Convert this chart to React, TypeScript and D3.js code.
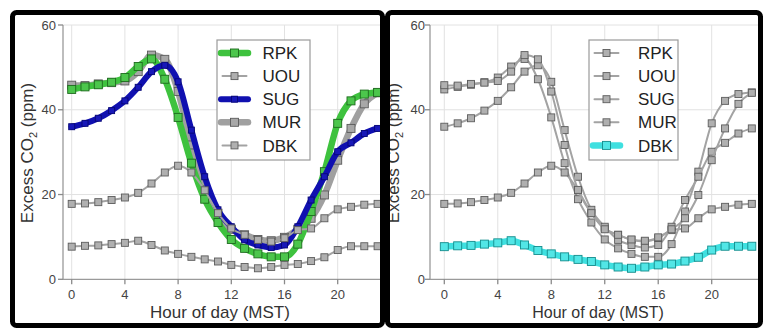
import React from 'react';
import * as d3 from 'd3';

const HOURS = [0, 1, 2, 3, 4, 5, 6, 7, 8, 9, 10, 11, 12, 13, 14, 15, 16, 17, 18, 19, 20, 21, 22, 23];
const RPK = [44.8, 45.4, 45.9, 46.5, 47.6, 50.2, 52.0, 47.2, 38.2, 27.4, 18.9, 13.4, 9.4, 7.3, 6.0, 5.3, 5.3, 8.3, 16.0, 25.4, 36.8, 42.1, 43.7, 44.1];
const UOU = [17.8, 17.9, 18.2, 18.7, 19.3, 20.4, 22.6, 25.2, 26.8, 25.2, 21.0, 15.6, 12.0, 10.5, 9.3, 8.9, 9.7, 11.6, 12.0, 14.4, 16.5, 17.1, 17.6, 17.8];
const SUG = [36.0, 36.8, 38.0, 39.8, 42.1, 45.3, 49.0, 50.5, 46.6, 35.2, 24.2, 16.4, 12.4, 9.3, 8.1, 7.5, 8.1, 12.4, 18.7, 24.2, 30.1, 32.2, 34.4, 35.6];
const MUR = [45.8, 45.7, 46.1, 46.4, 46.8, 49.0, 52.9, 51.9, 44.3, 31.7, 21.1, 15.6, 11.8, 10.5, 9.4, 9.1, 9.9, 11.8, 14.4, 19.9, 28.1, 35.6, 41.4, 44.0];
const DBK = [7.7, 7.9, 8.0, 8.3, 8.6, 9.1, 8.1, 6.8, 6.0, 5.3, 4.7, 4.2, 3.4, 2.9, 2.6, 2.9, 3.4, 3.6, 4.3, 5.2, 6.9, 7.8, 7.8, 7.8];

const SERIES_NAMES = ['RPK', 'UOU', 'SUG', 'MUR', 'DBK'];
const SERIES_VALUES: Record<string, number[]> = { RPK, UOU, SUG, MUR, DBK };
const X_TICKS = [0, 4, 8, 12, 16, 20];
const Y_TICKS = [0, 20, 40, 60];
const X_TITLE = 'Hour of day (MST)';

type Style = { line: string; width: number; fill: string; stroke: string; size: number; thick: boolean };
const THIN: Style = { line: '#a3a3a3', width: 2, fill: '#b0b0b0', stroke: '#5c5c5c', size: 7, thick: false };
const LEFT_STYLES: Record<string, Style> = {
  RPK: { line: '#3ec23e', width: 6.5, fill: '#4cc64c', stroke: '#1e6a1e', size: 8, thick: true },
  UOU: THIN,
  SUG: { line: '#1010b0', width: 6, fill: '#1818b8', stroke: '#070775', size: 6, thick: true },
  MUR: { line: '#a0a0a0', width: 6.5, fill: '#a8a8a8', stroke: '#5a5a5a', size: 8, thick: true },
  DBK: THIN,
};
const RIGHT_STYLES: Record<string, Style> = {
  RPK: THIN, UOU: THIN, SUG: THIN, MUR: THIN,
  DBK: { line: '#3fe0e0', width: 6.5, fill: '#52e6e6', stroke: '#148c8c', size: 8, thick: true },
};

type PanelCfg = {
  frame: [number, number, number, number];
  axisX: number;
  x0: number;
  x20: number;
  plotRight: number;
  yTop: number;
  yBottom: number;
  yLabelEnd: number;
  yTitleX: number;
  xTitleX: number;
  xTitleSize: number;
  legend: { x: number; y: number; w: number; h: number; l0: number; l1: number; tx: number; ey0: number; step: number };
  styles: Record<string, Style>;
  order: string[];
  clipId: string;
};

const FONT = '"Liberation Sans", Arial, sans-serif';

function Panel({ c }: { c: PanelCfg }) {
  const x = d3.scaleLinear().domain([0, 20]).range([c.x0, c.x20]);
  const y = d3.scaleLinear().domain([0, 60]).range([c.yBottom, c.yTop]);
  const line = d3.line<number>().x((_, i) => x(HOURS[i])).y((v) => y(v)).curve(d3.curveMonotoneX);
  const [fx, fy, fw, fh] = c.frame;
  const inner = { x: fx + 2.5, y: fy + 2.5, w: fw - 5, h: fh - 5 };
  return (
    <g>
      <defs>
        <clipPath id={c.clipId}>
          <rect x={inner.x} y={inner.y} width={inner.w} height={inner.h} />
        </clipPath>
      </defs>
      <g clipPath={`url(#${c.clipId})`}>
        {X_TICKS.map((t) => (
          <line key={'gx' + t} x1={x(t)} x2={x(t)} y1={c.yTop} y2={c.yBottom} stroke="#e2e2e2" strokeWidth={1} />
        ))}
        {Y_TICKS.filter((t) => t > 0).map((t) => (
          <line key={'gy' + t} x1={c.axisX} x2={c.plotRight} y1={y(t)} y2={y(t)} stroke="#e2e2e2" strokeWidth={1} />
        ))}
        <line x1={c.axisX} x2={c.axisX} y1={c.yTop} y2={c.yBottom} stroke="#9a9a9a" strokeWidth={1.3} />
        <line x1={c.axisX} x2={c.plotRight} y1={c.yBottom} y2={c.yBottom} stroke="#9a9a9a" strokeWidth={1.3} />
        {Y_TICKS.map((t) => (
          <line key={'ty' + t} x1={c.axisX - 5} x2={c.axisX} y1={y(t)} y2={y(t)} stroke="#8a8a8a" strokeWidth={1.3} />
        ))}
        {X_TICKS.map((t) => (
          <line key={'tx' + t} x1={x(t)} x2={x(t)} y1={c.yBottom} y2={c.yBottom + 5} stroke="#8a8a8a" strokeWidth={1.3} />
        ))}
        {Y_TICKS.map((t) => (
          <text key={'ly' + t} x={c.yLabelEnd} y={y(t)} dy="0.36em" textAnchor="end" fontSize={13} fill="#444" fontFamily={FONT}>{t}</text>
        ))}
        {X_TICKS.map((t) => (
          <text key={'lx' + t} x={x(t)} y={298.5} textAnchor="middle" fontSize={13} fill="#444" fontFamily={FONT}>{t}</text>
        ))}
        {c.order.map((name) => {
          const s = c.styles[name];
          const vals = SERIES_VALUES[name];
          return (
            <g key={name}>
              <path d={line(vals) || ''} fill="none" stroke={s.line} strokeWidth={s.width} strokeLinejoin="round" strokeLinecap="round" />
              {vals.map((v, i) => (
                <rect key={i} x={x(HOURS[i]) - s.size / 2} y={y(v) - s.size / 2} width={s.size} height={s.size}
                  fill={s.fill} stroke={s.stroke} strokeWidth={0.9} />
              ))}
            </g>
          );
        })}
        <rect x={c.legend.x} y={c.legend.y} width={c.legend.w} height={c.legend.h} fill="#fff" stroke="#9a9a9a" strokeWidth={1.2} />
        {SERIES_NAMES.map((name, i) => {
          const s = c.styles[name];
          const ly = c.legend.ey0 + i * c.legend.step;
          const pad = s.thick ? 0 : 1.5;
          const mx = (c.legend.l0 + c.legend.l1) / 2;
          return (
            <g key={'lg' + name}>
              <line x1={c.legend.l0 + pad} x2={c.legend.l1 - pad} y1={ly} y2={ly} stroke={s.line} strokeWidth={s.width} strokeLinecap="round" />
              <rect x={mx - s.size / 2} y={ly - s.size / 2} width={s.size} height={s.size} fill={s.fill} stroke={s.stroke} strokeWidth={0.9} />
              <text x={c.legend.tx} y={ly} dy="0.36em" fontSize={17} fill="#222" fontFamily={FONT}>{name}</text>
            </g>
          );
        })}
        <text x={c.xTitleX} y={317.5} textAnchor="middle" fontSize={c.xTitleSize} fill="#333" fontFamily={FONT}>{X_TITLE}</text>
        <text transform={`translate(${c.yTitleX},153) rotate(-90)`} textAnchor="middle" fontSize={17} fill="#333" fontFamily={FONT}>
          Excess CO<tspan dy={4} fontSize={11}>2</tspan><tspan dy={-4}> (ppm)</tspan>
        </text>
      </g>
      <rect x={fx} y={fy} width={fw} height={fh} rx={4} fill="none" stroke="#000" strokeWidth={5} />
    </g>
  );
}

const LEFT: PanelCfg = {
  frame: [12.5, 12.5, 370, 313],
  axisX: 63,
  x0: 71.7,
  x20: 337.7,
  plotRight: 381,
  yTop: 25,
  yBottom: 279.3,
  yLabelEnd: 56,
  yTitleX: 33,
  xTitleX: 220,
  xTitleSize: 17,
  legend: { x: 217, y: 40, w: 93, h: 120, l0: 221, l1: 248, tx: 262.5, ey0: 53, step: 23.1 },
  styles: LEFT_STYLES,
  order: ['MUR', 'RPK', 'SUG', 'UOU', 'DBK'],
  clipId: 'clipL',
};

const RIGHT: PanelCfg = {
  frame: [387.5, 12.5, 373, 313],
  axisX: 430,
  x0: 444.3,
  x20: 711.7,
  plotRight: 761,
  yTop: 25,
  yBottom: 279.3,
  yLabelEnd: 425,
  yTitleX: 399,
  xTitleX: 598,
  xTitleSize: 16,
  legend: { x: 589, y: 40, w: 89, h: 120, l0: 593, l1: 620, tx: 638, ey0: 53, step: 23.1 },
  styles: RIGHT_STYLES,
  order: ['RPK', 'UOU', 'SUG', 'MUR', 'DBK'],
  clipId: 'clipR',
};

export default function App() {
  return (
    <svg width={769} height={331} style={{ position: 'absolute', left: 0, top: 0, background: '#fff' }}>
      <Panel c={LEFT} />
      <Panel c={RIGHT} />
    </svg>
  );
}
